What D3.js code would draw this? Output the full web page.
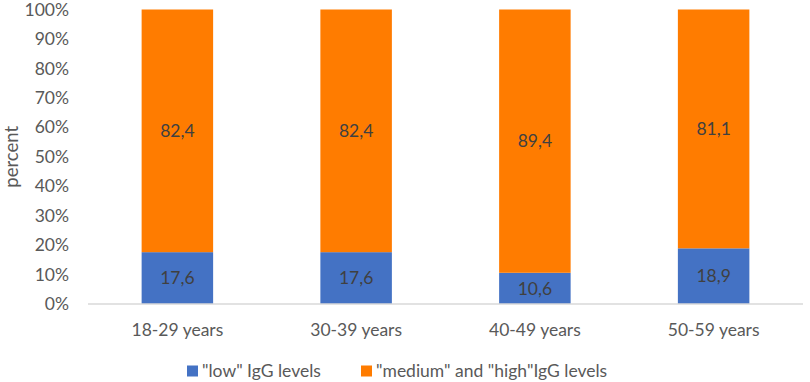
<!DOCTYPE html>
<html>
<head>
<meta charset="utf-8">
<script src="https://cdn.jsdelivr.net/npm/d3@7"></script>
<style>
  body { margin: 0; background: #fff; }
  text { font-family: Lato, "Open Sans", sans-serif; }
</style>
</head>
<body>
<div id="chart"></div>
<script>
// data
const groups = ["18-29 years", "30-39 years", "40-49 years", "50-59 years"];
const lowValues = [17.6, 17.6, 10.6, 18.9];
const highValues = [82.4, 82.4, 89.4, 81.1];
const seriesNames = ["\"low\" IgG levels", "\"medium\" and \"high\"IgG levels"];
const yTicks = [0, 10, 20, 30, 40, 50, 60, 70, 80, 90, 100];

const W = 810, H = 382;
const margin = { top: 9.5, right: 7, bottom: 78, left: 88 };
const width = W - margin.left - margin.right,
      height = H - margin.top - margin.bottom;

const svg = d3.select("#chart").append("svg")
    .attr("width", W)
    .attr("height", H);
const g = svg.append("g")
    .attr("transform", "translate(" + margin.left + "," + margin.top + ")");

const x = d3.scaleBand().domain(groups).range([0, width]).paddingInner(0.6).paddingOuter(0.3);
const y = d3.scaleLinear().domain([0, 100]).range([height, 0]);

const colors = ["#4472C4", "#FF7C00"];
const textColor = "#595959";

// stacked data
const rows = groups.map((gname, i) => ({ group: gname, low: lowValues[i], high: highValues[i] }));
const stack = d3.stack().keys(["low", "high"])(rows);

const layers = g.selectAll(".layer")
    .data(stack)
    .enter().append("g")
    .attr("fill", (d, i) => colors[i]);

layers.selectAll("rect")
    .data(d => d)
    .enter().append("rect")
    .attr("x", d => x(d.data.group))
    .attr("width", x.bandwidth())
    .attr("y", d => y(d[1]))
    .attr("height", d => y(d[0]) - y(d[1]));

// value labels
layers.selectAll("text")
    .data((d, i) => d.map(v => ({ v: v, key: stack[i].key })))
    .enter().append("text")
    .attr("x", d => x(d.v.data.group) + x.bandwidth() / 2)
    .attr("y", d => y((d.v[0] + d.v[1]) / 2))
    .attr("dy", "0.35em")
    .attr("text-anchor", "middle")
    .attr("fill", "#404040")
    .style("font-size", "17.5px")
    .text(d => String(d.v.data[d.key].toFixed(1)).replace(".", ","));

// baseline
g.append("line")
    .attr("x1", 0).attr("x2", width)
    .attr("y1", y(0)).attr("y2", y(0))
    .attr("stroke", "#D9D9D9")
    .attr("stroke-width", 1.5);

// y tick labels
g.selectAll(".ytick")
    .data(yTicks)
    .enter().append("text")
    .attr("x", -19)
    .attr("y", d => y(d))
    .attr("dy", "0.35em")
    .attr("text-anchor", "end")
    .attr("fill", textColor)
    .style("font-size", "17.5px")
    .text(d => d + "%");

// x tick labels
g.selectAll(".xtick")
    .data(groups)
    .enter().append("text")
    .attr("x", d => x(d) + x.bandwidth() / 2)
    .attr("y", height + 26)
    .attr("dy", "0.35em")
    .attr("text-anchor", "middle")
    .attr("fill", textColor)
    .style("font-size", "17.5px")
    .text(d => d);

// y axis title
svg.append("text")
    .attr("transform", "translate(12," + (margin.top + height / 2) + ") rotate(-90)")
    .attr("dy", "0.35em")
    .attr("text-anchor", "middle")
    .attr("fill", textColor)
    .style("font-size", "18.5px")
    .text("percent");

// legend
const legendX = [187, 361];
const legend = svg.selectAll(".legend")
    .data(seriesNames)
    .enter().append("g")
    .attr("transform", (d, i) => "translate(" + legendX[i] + ",371)");
legend.append("rect")
    .attr("x", 0).attr("y", -5.5)
    .attr("width", 11).attr("height", 11)
    .attr("fill", (d, i) => colors[i]);
legend.append("text")
    .attr("x", 15)
    .attr("dy", "0.35em")
    .attr("fill", textColor)
    .style("font-size", "17.5px")
    .text(d => d);
</script>
</body>
</html>
